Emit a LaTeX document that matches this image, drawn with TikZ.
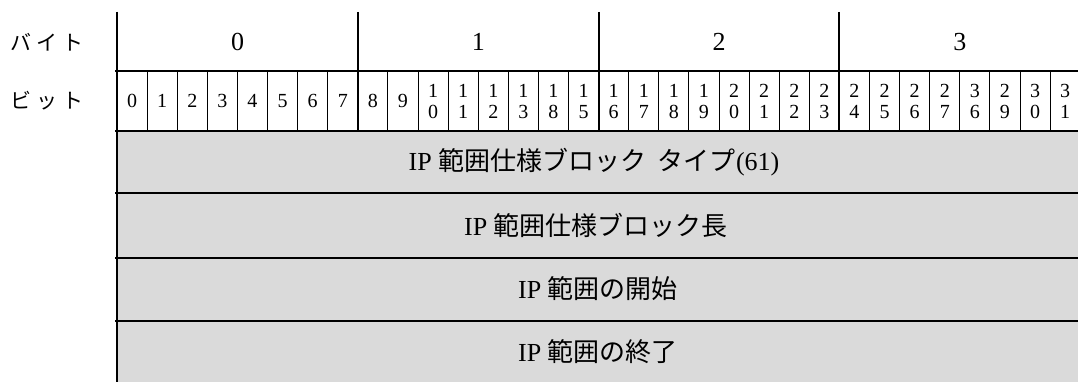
\documentclass[tikz,border=0pt]{standalone}
\usepackage{fontspec}
\setmainfont{Liberation Serif}
\newfontfamily\jp{Noto Sans CJK JP}
\definecolor{cellgray}{HTML}{DADADA}
\tikzset{
  thickline/.style={line width=2pt, black},
  thinline/.style={line width=1pt, black},
  bytelbl/.style={font=\fontsize{26}{30}\selectfont, inner sep=0pt},
  bitlbl/.style={font=\fontsize{20}{21}\selectfont, inner sep=0pt, align=center},
  rowlbl/.style={font=\jp\fontsize{21}{25}\selectfont, inner sep=0pt},
  fieldlbl/.style={font=\fontsize{26}{30}\selectfont, inner sep=0pt},
}
\begin{document}
\begin{tikzpicture}[x=1pt,y=-1pt]
\useasboundingbox (0,0) rectangle (1078,382);
\clip (0,0) rectangle (1078,382);
% grey field area
\fill[cellgray] (117,131) rectangle (1085,385);
% left labels
\node[rowlbl] (lbyte) at (47,42) {バ\kern5pt イ\kern5pt ト};
\node[rowlbl] (lbit) at (47,101) {ビ\kern5pt ッ\kern5pt ト};
% thin bit separators
\foreach \i in {1,...,31}{
  \draw[thinline] ({117+\i*30.1},71) -- ({117+\i*30.1},131);
}
% byte separators
\foreach \i in {0,8,16,24}{
  \draw[thickline] ({117+\i*30.1},12) -- ({117+\i*30.1},131);
}
% left vertical line
\draw[thickline] (117,12) -- (117,383);
% horizontal lines
\foreach \y in {71,131,193,257.5,321}{
  \draw[thickline] (115,\y) -- (1085,\y);
}
% byte labels
\foreach \b/\cx in {0/237.5,1/478.3,2/719.1,3/959.9}{
  \node[bytelbl] (byte\b) at (\cx,42) {\b};
}
% bit labels
\foreach \i/\t in {0/0,1/1,2/2,3/3,4/4,5/5,6/6,7/7,8/8,9/9,
  10/1\\0,11/1\\1,12/1\\2,13/1\\3,14/1\\8,15/1\\5,16/1\\6,17/1\\7,18/1\\8,19/1\\9,
  20/2\\0,21/2\\1,22/2\\2,23/2\\3,24/2\\4,25/2\\5,26/2\\6,27/2\\7,28/3\\6,29/2\\9,
  30/3\\0,31/3\\1}{
  \node[bitlbl] (bit\i) at ({117+(\i+0.5)*30.1},101) {\t};
}
% field labels
\node[fieldlbl] (f1) at (594,162) {IP {\jp 範囲仕様ブロック\hspace{0.45em}タイプ}(61)};
\node[fieldlbl] (f2) at (596,225) {IP {\jp 範囲仕様ブロック長}};
\node[fieldlbl] (f3) at (598,289) {IP {\jp 範囲の開始}};
\node[fieldlbl] (f4) at (598,352) {IP {\jp 範囲の終了}};
\end{tikzpicture}
\end{document}
